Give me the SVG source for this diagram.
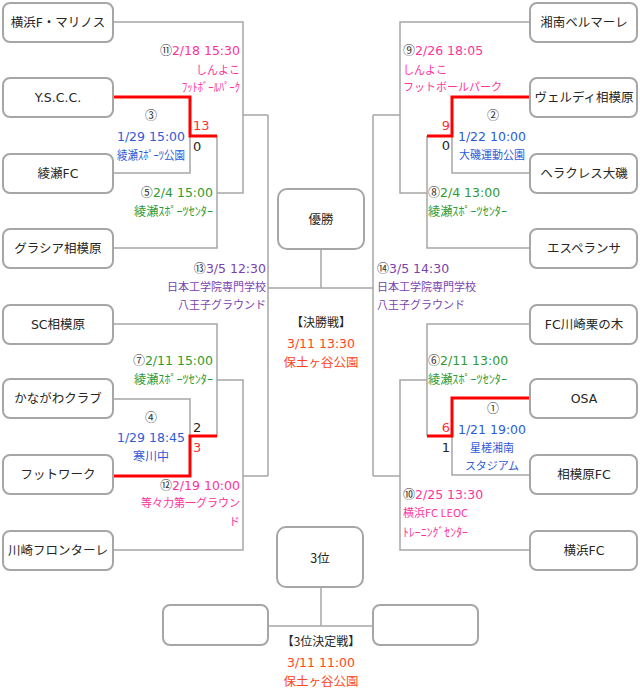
<svg xmlns="http://www.w3.org/2000/svg" width="640" height="694" viewBox="0 0 640 694">
<style>
text{font-family:"DejaVu Sans","Noto Sans CJK JP",sans-serif;}
.box{fill:#fff;stroke:#a6a6a6;stroke-width:2;}
.ln{fill:none;stroke:#a6a6a6;stroke-width:1.5;}
.win{fill:none;stroke:#ff0000;stroke-width:3;}
.team{font-size:12.5px;fill:#262626;text-anchor:middle;}
.c{font-size:12.5px;fill:#262626;text-anchor:middle;font-family:"Noto Sans CJK JP",sans-serif;}
.d{font-size:12.5px;}
.v{font-size:11px;font-family:"Noto Sans CJK JP",sans-serif;}
.h{font-size:12px;}
.n{font-family:"Noto Sans CJK JP",sans-serif;font-size:12px;fill:#333;}
.pk{fill:#ff3399;}
.bl{fill:#2e5bd8;}
.gr{fill:#2f9a2f;}
.pu{fill:#7b3fb0;}
.or{fill:#ff4422;}
.sr{font-size:13px;fill:#ff3333;}
.sb{font-size:13px;fill:#262626;}
.e{text-anchor:end;}
.m{text-anchor:middle;}
</style>

<g id="connectors">
  <path class="ln" d="M113,22 H243 V193 H217"/>
  <path class="ln" d="M243,115 H268"/>
  <path class="ln" d="M113,173 H190 V136"/>
  <path class="ln" d="M217,136 V248 H113"/>
  <path class="ln" d="M113,324 H217 V436"/>
  <path class="ln" d="M113,399 H190 V436"/>
  <path class="ln" d="M217,380 H243 V550 H113"/>
  <path class="ln" d="M243,476 H268"/>
  <path class="ln" d="M268,115 V476"/>
  <path class="ln" d="M268,288 H373"/>
  <path class="ln" d="M321,249 V288"/>
  <path class="ln" d="M530,22 H400 V193 H427"/>
  <path class="ln" d="M400,115 H373"/>
  <path class="ln" d="M530,173 H452 V136"/>
  <path class="ln" d="M427,136 V248 H530"/>
  <path class="ln" d="M530,324 H427 V436"/>
  <path class="ln" d="M530,475 H452 V436"/>
  <path class="ln" d="M427,380 H400 V550 H530"/>
  <path class="ln" d="M400,476 H373"/>
  <path class="ln" d="M373,115 V476"/>
  <path class="ln" d="M321,587 V626"/>
  <path class="ln" d="M268,626 H373"/>
  <path class="win" d="M113,97 H190 V136 H217"/>
  <path class="win" d="M217,436 H190 V476 H113"/>
  <path class="win" d="M530,97 H452 V136 H427"/>
  <path class="win" d="M530,398 H452 V436 H427"/>
</g>

<g id="team-yokohama-fm"><rect class="box" x="3" y="3" width="110" height="39" rx="7"/><text class="team" x="58" y="27">横浜F・マリノス</text></g>
<g id="team-yscc"><rect class="box" x="3" y="78" width="110" height="39" rx="7"/><text class="team" x="58" y="102">Y.S.C.C.</text></g>
<g id="team-ayase"><rect class="box" x="3" y="154" width="110" height="39" rx="7"/><text class="team" x="58" y="178">綾瀬FC</text></g>
<g id="team-gracia"><rect class="box" x="3" y="229" width="110" height="39" rx="7"/><text class="team" x="58" y="253">グラシア相模原</text></g>
<g id="team-sc-sagamihara"><rect class="box" x="3" y="305" width="110" height="39" rx="7"/><text class="team" x="58" y="329">SC相模原</text></g>
<g id="team-kanagawa"><rect class="box" x="3" y="379" width="110" height="39" rx="7"/><text class="team" x="58" y="403">かながわクラブ</text></g>
<g id="team-footwork"><rect class="box" x="3" y="455" width="110" height="39" rx="7"/><text class="team" x="58" y="479">フットワーク</text></g>
<g id="team-frontale"><rect class="box" x="3" y="531" width="110" height="39" rx="7"/><text class="team" x="58" y="555">川崎フロンターレ</text></g>

<g id="team-bellmare"><rect class="box" x="530" y="3" width="107" height="39" rx="7"/><text class="team" x="584" y="27">湘南ベルマーレ</text></g>
<g id="team-verdy"><rect class="box" x="530" y="78" width="107" height="39" rx="7"/><text class="team" x="584" y="102">ヴェルディ相模原</text></g>
<g id="team-heracles"><rect class="box" x="530" y="154" width="107" height="39" rx="7"/><text class="team" x="584" y="178">ヘラクレス大磯</text></g>
<g id="team-esperanza"><rect class="box" x="530" y="229" width="107" height="39" rx="7"/><text class="team" x="584" y="253">エスペランサ</text></g>
<g id="team-kurinoki"><rect class="box" x="530" y="305" width="107" height="39" rx="7"/><text class="team" x="584" y="329">FC川崎栗の木</text></g>
<g id="team-osa"><rect class="box" x="530" y="379" width="107" height="39" rx="7"/><text class="team" x="584" y="403">OSA</text></g>
<g id="team-sagamihara-fc"><rect class="box" x="530" y="455" width="107" height="39" rx="7"/><text class="team" x="584" y="479">相模原FC</text></g>
<g id="team-yokohama-fc"><rect class="box" x="530" y="531" width="107" height="39" rx="7"/><text class="team" x="584" y="555">横浜FC</text></g>

<g id="champion"><rect class="box" x="278" y="189" width="86" height="60" rx="9"/><text class="c" x="321" y="224">優勝</text></g>
<g id="third"><rect class="box" x="277" y="527" width="86" height="60" rx="9"/><text class="c" x="320" y="563">3位</text></g>
<g id="third-left"><rect class="box" x="163" y="605" width="105" height="40" rx="7"/></g>
<g id="third-right"><rect class="box" x="373" y="605" width="105" height="40" rx="7"/></g>

<g id="match-labels">
  <text class="d e" x="240" y="55"><tspan class="n">⑪</tspan><tspan class="pk">2/18 15:30</tspan></text>
  <text class="v e pk" x="240" y="74">しんよこ</text>
  <text class="v h e pk" x="240" y="92" textLength="58" lengthAdjust="spacingAndGlyphs">ﾌｯﾄﾎﾞｰﾙﾊﾟｰｸ</text>

  <text class="n m" x="151" y="120">③</text>
  <text class="d m bl" x="151" y="141">1/29 15:00</text>
  <text class="v h m bl" x="151" y="160" textLength="68" lengthAdjust="spacingAndGlyphs">綾瀬ｽﾎﾟｰﾂ公園</text>
  <text class="sr" x="193" y="130">13</text>
  <text class="sb" x="193" y="151">0</text>

  <text class="d e" x="213" y="197"><tspan class="n">⑤</tspan><tspan class="gr">2/4 15:00</tspan></text>
  <text class="v h e gr" x="213" y="216" textLength="79" lengthAdjust="spacingAndGlyphs">綾瀬ｽﾎﾟｰﾂｾﾝﾀｰ</text>

  <text class="d e" x="266" y="273"><tspan class="n">⑬</tspan><tspan class="pu">3/5 12:30</tspan></text>
  <text class="v e pu" x="266" y="291">日本工学院専門学校</text>
  <text class="v e pu" x="266" y="309">八王子グラウンド</text>

  <text class="d e" x="213" y="365"><tspan class="n">⑦</tspan><tspan class="gr">2/11 15:00</tspan></text>
  <text class="v h e gr" x="213" y="384" textLength="79" lengthAdjust="spacingAndGlyphs">綾瀬ｽﾎﾟｰﾂｾﾝﾀｰ</text>

  <text class="n m" x="151" y="422">④</text>
  <text class="d m bl" x="151" y="442">1/29 18:45</text>
  <text class="v m bl" x="151" y="461" style="font-size:12px">寒川中</text>
  <text class="sb" x="193" y="432">2</text>
  <text class="sr" x="193" y="452">3</text>

  <text class="d e" x="240" y="490"><tspan class="n">⑫</tspan><tspan class="pk">2/19 10:00</tspan></text>
  <text class="v e pk" x="240" y="507">等々力第一グラウン</text>
  <text class="v e pk" x="240" y="526">ド</text>

  <text class="d" x="403" y="55"><tspan class="n">⑨</tspan><tspan class="pk">2/26 18:05</tspan></text>
  <text class="v pk" x="403" y="74">しんよこ</text>
  <text class="v pk" x="403" y="91">フットボールパーク</text>

  <text class="n m" x="493" y="120">②</text>
  <text class="d m bl" x="492" y="141">1/22 10:00</text>
  <text class="v m bl" x="492" y="159">大磯運動公園</text>
  <text class="sr e" x="450" y="130">9</text>
  <text class="sb e" x="450" y="150">0</text>

  <text class="d" x="428" y="197"><tspan class="n">⑧</tspan><tspan class="gr">2/4 13:00</tspan></text>
  <text class="v h gr" x="428" y="216" textLength="79" lengthAdjust="spacingAndGlyphs">綾瀬ｽﾎﾟｰﾂｾﾝﾀｰ</text>

  <text class="d" x="377" y="273"><tspan class="n">⑭</tspan><tspan class="pu">3/5 14:30</tspan></text>
  <text class="v pu" x="377" y="291">日本工学院専門学校</text>
  <text class="v pu" x="377" y="309">八王子グラウンド</text>

  <text class="d" x="428" y="365"><tspan class="n">⑥</tspan><tspan class="gr">2/11 13:00</tspan></text>
  <text class="v h gr" x="428" y="384" textLength="79" lengthAdjust="spacingAndGlyphs">綾瀬ｽﾎﾟｰﾂｾﾝﾀｰ</text>

  <text class="n m" x="493" y="413">①</text>
  <text class="d m bl" x="492" y="434">1/21 19:00</text>
  <text class="v m bl" x="492" y="452">星槎湘南</text>
  <text class="v m bl" x="492" y="470">スタジアム</text>
  <text class="sr e" x="450" y="432">6</text>
  <text class="sb e" x="450" y="452">1</text>

  <text class="d" x="403" y="499"><tspan class="n">⑩</tspan><tspan class="pk">2/25 13:30</tspan></text>
  <text class="v pk" x="403" y="517">横浜FC LEOC</text>
  <text class="v h pk" x="403" y="537" textLength="65" lengthAdjust="spacingAndGlyphs">ﾄﾚｰﾆﾝｸﾞｾﾝﾀｰ</text>

  <text class="c" x="321" y="327" style="font-size:12px">【決勝戦】</text>
  <text class="d m or" x="321" y="348">3/11 13:30</text>
  <text class="c or" x="321" y="367">保土ヶ谷公園</text>

  <text class="c" x="321" y="646" style="font-size:12px">【3位決定戦】</text>
  <text class="d m or" x="321" y="667">3/11 11:00</text>
  <text class="c or" x="321" y="686">保土ヶ谷公園</text>
</g>
</svg>
